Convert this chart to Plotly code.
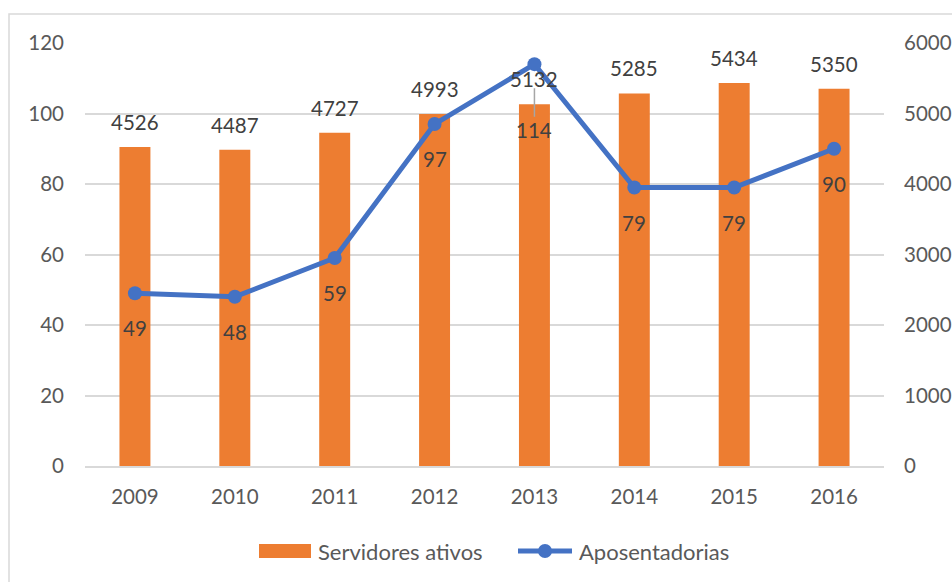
import plotly.graph_objects as go

# Data
anos = [2009, 2010, 2011, 2012, 2013, 2014, 2015, 2016]
servidores_ativos = [4526, 4487, 4727, 4993, 5132, 5285, 5434, 5350]
aposentadorias = [49, 48, 59, 97, 114, 79, 79, 90]
ticks_esq = [0, 20, 40, 60, 80, 100, 120]
ticks_dir = [0, 1000, 2000, 3000, 4000, 5000, 6000]

LARANJA = "#ED7D31"
AZUL = "#4472C4"
CINZA_TXT = "#595959"
CINZA_ROT = "#404040"
GRADE = "#D9D9D9"
FONTE = "Lato, Calibri, sans-serif"
FS = 20.5
FS_LEG = 22

W, H = 952, 582
L, R, T, B = 85, 68, 43, 116
PW, PH = W - L - R, H - T - B


def px_x(px):
    return (px - L) / PW


def px_y(py):
    return (H - B - py) / PH


fig = go.Figure()

# bars on the right-hand scale (base axis "y")
fig.add_trace(go.Bar(
    x=anos, y=servidores_ativos, name="Servidores ativos",
    marker=dict(color=LARANJA, line=dict(width=0)),
    width=0.31, yaxis="y", showlegend=False,
))

# line on the left-hand scale (overlay axis "y2", drawn on top)
fig.add_trace(go.Scatter(
    x=anos, y=aposentadorias, name="Aposentadorias",
    mode="lines+markers",
    line=dict(color=AZUL, width=5),
    marker=dict(color=AZUL, size=14),
    yaxis="y2", showlegend=False,
))

annotations = []
# bar value labels
for a, v in zip(anos, servidores_ativos):
    annotations.append(dict(
        x=a, y=v, xref="x", yref="y", text=str(v), showarrow=False,
        yshift=25, font=dict(size=FS, color=CINZA_ROT, family=FONTE),
    ))
# line value labels
for a, v in zip(anos, aposentadorias):
    if v == max(aposentadorias):
        annotations.append(dict(
            x=a, y=v, xref="x", yref="y2", text=str(v), showarrow=True,
            arrowhead=0, arrowwidth=1.5, arrowcolor="#A6A6A6",
            ax=0, ay=66, standoff=24,
            font=dict(size=FS, color=CINZA_ROT, family=FONTE),
        ))
    else:
        annotations.append(dict(
            x=a, y=v, xref="x", yref="y2", text=str(v), showarrow=False,
            yshift=-35, font=dict(size=FS, color=CINZA_ROT, family=FONTE),
        ))

# legend entries
annotations.append(dict(
    x=px_x(316), y=px_y(551), xref="paper", yref="paper",
    text="Servidores ativos", showarrow=False, xanchor="left", yanchor="middle",
    font=dict(size=FS_LEG, color=CINZA_TXT, family=FONTE),
))
annotations.append(dict(
    x=px_x(577), y=px_y(551), xref="paper", yref="paper",
    text="Aposentadorias", showarrow=False, xanchor="left", yanchor="middle",
    font=dict(size=FS_LEG, color=CINZA_TXT, family=FONTE),
))

shapes = [
    # chart border
    dict(type="rect", xref="paper", yref="paper",
         x0=px_x(9), x1=px_x(970), y0=px_y(600), y1=px_y(14),
         line=dict(color=GRADE, width=1.5), fillcolor="rgba(0,0,0,0)", layer="below"),
    # legend swatch for bars
    dict(type="rect", xref="paper", yref="paper",
         x0=px_x(259), x1=px_x(311), y0=px_y(558), y1=px_y(544),
         line=dict(width=0), fillcolor=LARANJA),
    # legend swatch for line
    dict(type="line", xref="paper", yref="paper",
         x0=px_x(518), x1=px_x(572), y0=px_y(551), y1=px_y(551),
         line=dict(color=AZUL, width=5)),
    dict(type="circle", xref="paper", yref="paper",
         x0=px_x(538), x1=px_x(552), y0=px_y(558), y1=px_y(544),
         line=dict(width=0), fillcolor=AZUL),
]

fig.update_layout(
    width=W, height=H,
    margin=dict(l=L, r=R, t=T, b=B),
    paper_bgcolor="white", plot_bgcolor="white",
    font=dict(family=FONTE, color=CINZA_TXT, size=FS),
    xaxis=dict(
        type="linear", range=[anos[0] - 0.5, anos[-1] + 0.5],
        tickvals=anos, ticktext=[str(a) for a in anos],
        showgrid=False, zeroline=False,
        showline=True, linecolor=GRADE, linewidth=1.5,
        ticks="", tickfont=dict(size=FS, color=CINZA_TXT),
        ticklabelstandoff=12, automargin=False,
    ),
    yaxis=dict(
        range=[0, 6000], tickvals=ticks_dir, side="right",
        showgrid=True, gridcolor=GRADE, gridwidth=1.5,
        zeroline=False, showline=False,
        tickfont=dict(size=FS, color=CINZA_TXT), ticklabelstandoff=19,
        automargin=False,
    ),
    yaxis2=dict(
        range=[0, 120], tickvals=ticks_esq, side="left", overlaying="y",
        showgrid=False, zeroline=False, showline=False,
        tickfont=dict(size=FS, color=CINZA_TXT), ticklabelstandoff=20,
        automargin=False,
    ),
    annotations=annotations,
    shapes=shapes,
    showlegend=False,
)

fig.write_html("out.html")
